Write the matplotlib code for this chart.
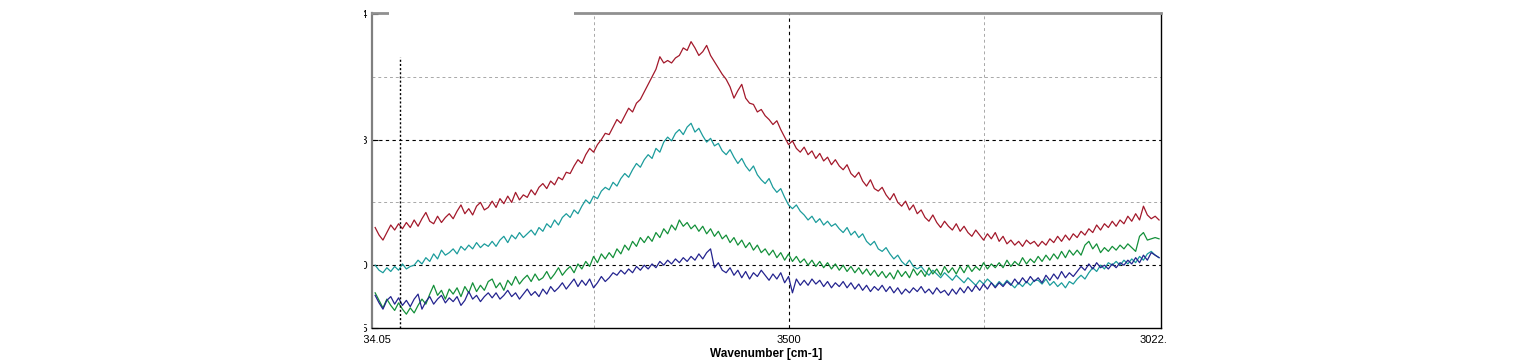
import numpy as np
import matplotlib
matplotlib.use("Agg")
import matplotlib.pyplot as plt
from matplotlib.patches import Rectangle
import matplotlib.transforms as mtransforms

plt.rcParams['font.family'] = ['Liberation Sans', 'DejaVu Sans']

# wavenumber grid (cm-1), 5 cm-1 steps, high -> low
wn = np.arange(4030, 3020, -5)

# absorbance in mAbs
red = [23.0, 22.4, 22.0, 22.6, 23.2, 22.8, 23.3, 22.9, 23.4, 23.0,
       23.6, 23.1, 23.7, 24.2, 23.5, 23.3, 23.9, 23.4, 23.8, 24.1,
       23.7, 24.3, 24.8, 24.1, 24.5, 24.0, 24.7, 25.0, 24.4, 24.6,
       25.1, 24.6, 25.3, 24.9, 25.5, 25.0, 25.8, 25.2, 25.6, 25.4,
       26.0, 25.6, 26.2, 26.5, 26.1, 26.7, 26.4, 27.0, 26.8, 27.4,
       27.3, 27.9, 28.4, 28.1, 28.8, 29.3, 29.0, 29.6, 30.0, 30.5,
       30.4, 31.0, 31.6, 31.3, 31.9, 32.5, 32.2, 32.9, 33.2, 33.8,
       34.4, 35.0, 35.6, 36.6, 36.1, 36.3, 36.1, 36.5, 36.7, 37.3,
       37.1, 37.8, 37.3, 36.7, 37.0, 37.5, 36.7, 36.2, 35.7, 35.2,
       34.8, 34.2, 33.3, 33.9, 34.4, 33.3, 32.9, 32.8, 32.2, 32.4,
       31.9, 31.6, 31.2, 31.5, 30.8, 30.2, 29.6, 29.9, 29.3, 29.0,
       29.4, 28.8, 29.1, 28.5, 28.9, 28.3, 28.6, 28.0, 28.4, 27.9,
       27.6, 28.0, 27.3, 27.0, 27.4, 26.7, 26.3, 26.8, 26.1, 25.9,
       26.2, 25.6, 25.2, 25.7, 25.0, 24.7, 25.1, 24.4, 24.8, 24.1,
       24.4, 23.8, 23.5, 24.0, 23.4, 23.0, 23.5, 23.1, 22.8, 23.3,
       22.7, 23.1, 22.6, 22.3, 22.8, 22.4, 22.0, 22.5, 22.1, 22.6,
       21.9, 22.3, 21.7, 22.0, 21.6, 21.9, 21.5, 22.0, 21.7, 21.9,
       21.5, 21.9, 21.6, 22.1, 21.8, 22.3, 21.9, 22.4, 22.0, 22.5,
       22.2, 22.7, 22.4, 22.9, 22.6, 23.2, 22.8, 23.3, 23.0, 23.5,
       23.1, 23.6, 23.3, 23.9, 23.5, 24.1, 23.6, 24.7, 24.0, 23.7,
       23.9, 23.6]

cyan = [20.0, 19.6, 19.4, 19.8, 19.5, 19.9, 19.6, 20.1, 19.7, 19.9,
        20.0, 20.4, 20.1, 20.6, 20.3, 20.9, 20.5, 21.2, 20.8, 21.0,
        21.3, 20.9, 21.5, 21.2, 21.6, 21.3, 21.8, 21.4, 21.7, 21.5,
        21.9, 21.5, 22.0, 22.3, 21.8, 22.4, 22.1, 22.6, 22.2, 22.5,
        22.8, 22.4, 23.0, 22.7, 23.3, 23.0, 23.6, 23.2, 23.8, 24.1,
        23.8, 24.4, 24.1, 24.7, 25.2, 24.9, 25.5, 25.3, 25.9, 26.2,
        26.0, 26.6, 26.3, 26.9, 27.3, 27.0, 27.6, 28.1, 27.8, 28.4,
        28.8, 28.5, 29.3, 29.0, 29.8, 30.2, 29.9, 30.5, 30.8, 30.4,
        31.0, 31.3, 30.6, 30.9, 30.3, 29.8, 30.1, 29.5, 29.7, 29.1,
        28.8, 29.2, 28.6, 28.1, 28.5, 27.9, 27.5, 27.9, 27.2, 26.8,
        26.5, 26.9, 26.2, 25.8, 26.1, 25.4, 24.8, 24.5, 24.8, 24.3,
        24.0, 23.6, 23.9, 23.4, 23.7, 23.2, 23.5, 23.1, 23.3, 22.9,
        22.6, 23.0, 22.4, 22.7, 22.2, 22.5, 21.9, 21.6, 21.9, 21.3,
        21.1, 21.4, 20.9, 20.5, 20.8, 20.3, 20.0, 20.4, 19.9, 19.7,
        19.9, 19.5, 19.2, 19.6, 19.3, 19.0, 19.4, 19.1, 18.8, 19.2,
        18.9, 18.6, 19.0, 18.7, 18.4, 18.8, 18.5, 18.9, 18.6, 18.3,
        18.7, 18.4, 18.8, 18.5, 18.2, 18.6, 18.3, 18.7, 18.4, 18.8,
        18.8, 18.5, 18.9, 18.4, 18.7, 18.3, 18.6, 18.2, 18.7, 18.5,
        18.9, 19.2, 18.9, 19.4, 19.8, 19.5, 20.0, 19.7, 20.2, 20.0,
        20.3, 20.0, 20.4, 20.1, 20.5, 20.2, 20.7, 20.4, 20.9, 21.1,
        20.8, 20.6]

green = [17.8, 17.2, 16.6, 17.3, 16.8, 16.4, 17.0, 16.5, 16.1, 16.6,
         16.2, 16.8, 17.3, 16.9, 17.7, 18.4, 17.6, 18.0, 17.3, 18.1,
         17.7, 18.2, 17.5, 18.3, 17.8, 18.6, 17.9, 18.4, 18.0, 18.7,
         18.9, 18.2, 18.6, 18.0, 18.8, 18.4, 19.1, 18.5, 18.9, 19.2,
         18.7, 19.3, 18.8, 19.0, 19.5, 18.9, 19.3, 19.8, 19.2, 19.6,
         19.9, 19.4, 20.1, 19.7, 20.3, 19.9, 20.7, 20.2, 20.9, 20.5,
         21.0, 20.6, 21.3, 20.9, 21.6, 21.2, 21.9, 21.5, 22.2, 21.8,
         22.3, 21.9, 22.6, 22.2, 22.9, 22.5, 23.2, 22.8, 23.6, 23.1,
         23.4, 22.9, 23.2, 22.7, 23.1, 22.5, 22.9, 22.3, 22.7, 22.1,
         22.4, 21.8, 22.2, 21.6, 22.0, 21.4, 21.8, 21.2, 21.6, 21.0,
         21.3, 20.8, 21.2, 20.6, 21.0, 20.4, 20.9, 20.3, 20.7, 20.2,
         20.5, 20.0, 20.4, 19.9, 20.3, 19.8, 20.2, 19.7, 20.1, 19.6,
         20.0, 19.5, 19.9, 19.4, 19.8, 19.3, 19.7, 19.2, 19.6, 19.1,
         19.5, 19.0, 19.4, 18.9, 19.6, 19.1, 19.5, 19.0, 19.7, 19.2,
         19.6, 19.1, 19.8, 19.3, 19.7, 19.2, 19.9, 19.4, 19.8, 19.3,
         19.9, 19.4, 20.0, 19.5, 19.9, 19.6, 20.2, 19.7, 20.1, 19.8,
         20.2, 19.8, 20.4, 19.9, 20.3, 20.0, 20.6, 20.1, 20.5, 20.2,
         20.7, 20.3, 20.8, 20.4, 20.9, 20.5, 21.1, 20.6, 21.2, 20.8,
         21.2, 20.8, 21.6, 21.9, 21.3, 21.7, 21.0, 21.4, 21.1, 21.5,
         21.2, 21.6, 21.3, 21.7, 21.4, 21.1, 22.3, 22.6, 22.0, 22.1,
         22.2, 22.1]

blue = [17.6, 17.0, 16.5, 17.2, 17.5, 16.9, 17.4, 16.8, 17.2, 16.7,
        17.3, 17.7, 16.5, 17.1, 17.5, 16.9, 17.3, 17.6, 17.0, 17.4,
        17.1, 17.5, 16.8, 17.2, 17.9, 17.3, 17.6, 17.1, 17.5, 17.8,
        17.4, 17.8, 17.3, 17.6, 18.0, 17.5, 17.8, 17.3, 17.7, 18.1,
        17.6, 17.9, 17.5, 18.1, 17.7, 18.3, 17.9, 18.2, 18.6, 18.1,
        18.5, 18.9, 18.3, 18.8, 18.4, 18.9, 18.2, 18.6, 19.1, 18.7,
        19.0, 19.4, 19.2, 19.6, 19.3, 19.7, 19.4, 19.9, 19.6, 20.0,
        19.7, 20.1, 19.8, 20.3, 20.0, 20.4, 20.1, 20.5, 20.2, 20.6,
        20.3, 20.7, 20.4, 20.9, 20.5, 21.0, 21.3, 19.8, 20.2, 19.6,
        19.4, 19.8, 19.2, 19.6, 19.0, 19.5, 18.9, 19.4, 19.1, 19.6,
        19.2, 18.8, 19.3, 18.9, 19.4, 18.6, 19.1, 17.8, 18.9, 18.4,
        18.8, 18.4, 18.9, 18.5, 18.8, 18.3, 18.7, 18.2, 18.6, 18.3,
        18.7, 18.2, 18.6, 18.1, 18.5, 18.0, 18.4, 17.9, 18.3, 18.0,
        18.4, 17.9, 18.3, 17.8, 18.2, 17.7, 18.1, 17.8, 18.2, 17.9,
        18.3, 17.8, 18.1, 17.7, 18.2, 17.8, 18.0, 17.6, 18.1, 17.7,
        18.2, 17.8, 18.3, 17.9, 18.4, 18.0, 18.5, 18.1, 18.6, 18.2,
        18.6, 18.3, 18.7, 18.4, 18.9, 18.5, 19.0, 18.6, 19.1, 18.7,
        19.0, 18.6, 19.2, 18.8, 19.3, 18.9, 19.5, 19.0, 19.4, 19.1,
        19.5, 19.9, 19.6, 20.1, 19.7, 20.2, 19.8, 20.0, 19.7, 20.1,
        19.8, 20.2, 20.0, 20.4, 20.1, 20.6, 20.2, 20.8, 20.4, 21.0,
        20.8, 20.6]

x_lo, x_hi = 4034.05, 3022.5
y_lo, y_hi = 0.015, 0.04008
cursor_wn = 3998.0
cursor_top = 0.0366

fig = plt.figure(figsize=(15.35, 3.64), dpi=100)
ax = fig.add_axes([372/1535, 36/364, 789/1535, 315/364])

c_l = ["#a3192b", "#1c9c9c", "#14903a", "#24248f"]
for idx, yv in enumerate([red, cyan, green, blue]):
    ax.plot(wn, np.array(yv)*1e-3, color=c_l[idx], lw=0.9,
            solid_joinstyle="round")

ax.set_xlim(x_lo, x_hi)
ax.set_ylim(y_lo, y_hi)

# grid
for v in [3750, 3250]:
    ax.axvline(v, color="#a8a8a8", lw=0.7, ls=(0, (3, 3)), zorder=0)
for v in [0.025, 0.035]:
    ax.axhline(v, color="#a8a8a8", lw=0.7, ls=(0, (3, 3)), zorder=0)
ax.axvline(3500, color="k", lw=0.8, ls=(0, (3, 3)), zorder=0)
for v in [0.02, 0.03]:
    ax.axhline(v, color="k", lw=0.8, ls=(0, (3, 3)), zorder=0)
ax.plot([cursor_wn, cursor_wn], [y_lo, cursor_top], color="k", lw=1.0,
        ls=(0, (1.5, 1.5)))

ax.set_xticks([x_lo, 3500, x_hi])
ax.set_xticklabels(["4034.05", "3500", "3022."])
ax.set_yticks([0.015, 0.02, 0.03, 0.04])
ax.set_yticklabels(["0.015", "0.020", "0.03", "0.04"])
ax.tick_params(axis="both", direction="in", length=4, labelsize=8, pad=3)
ax.tick_params(axis="x", length=0, pad=5)
lab = ax.get_xticklabels()[-1]
lab.set_transform(lab.get_transform() +
                  mtransforms.ScaledTranslation(-7/100, 0, fig.dpi_scale_trans))

ax.set_xlabel("Wavenumber [cm-1]", fontsize=8.5, fontweight="bold", labelpad=2.5)

ax.spines["left"].set_color("#808080")
ax.spines["left"].set_linewidth(1.6)
ax.spines["top"].set_color("#909090")
ax.spines["top"].set_linewidth(2.0)
ax.spines["right"].set_linewidth(1.0)
ax.spines["bottom"].set_linewidth(1.0)

# empty box breaking the top frame
ax.add_patch(Rectangle((17/789, 0.985), 185/789, 0.03, transform=ax.transAxes,
                       facecolor="white", edgecolor="none", clip_on=False, zorder=5))

# white strip covering the left of the picture
fig.patches.append(Rectangle((0, 0), 364/1535, 1, transform=fig.transFigure,
                             facecolor="white", edgecolor="none", zorder=10))

plt.savefig("out.png", dpi=100)
